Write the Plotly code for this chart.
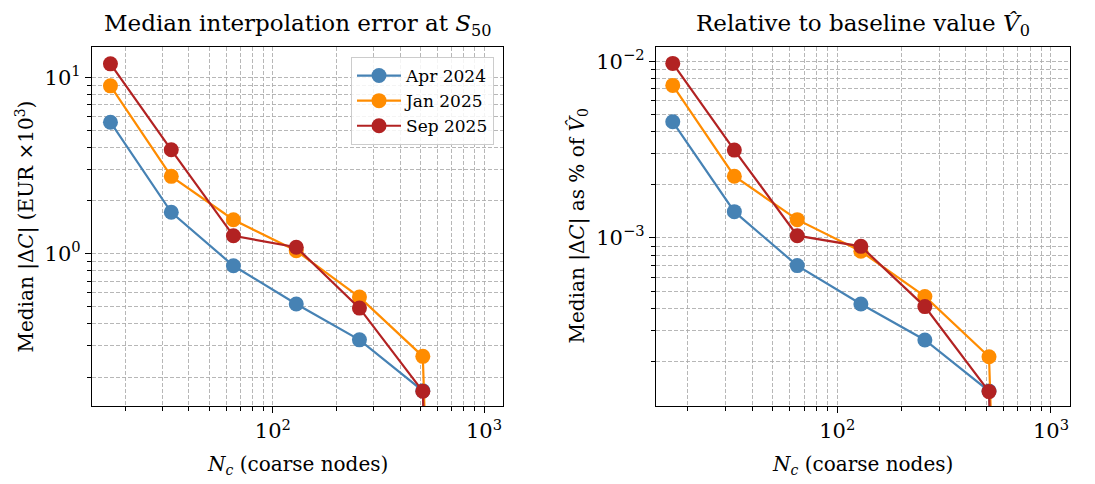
import numpy as np
import plotly.graph_objects as go

# ---- data ----
n_coarse = [17, 33, 65, 129, 257, 513, 1025]
series_names = ["Apr 2024", "Jan 2025", "Sep 2025"]
# last entry (N=1025) is effectively zero error (drawn below the axis floor)
abs_err_apr24 = [5.58, 1.72, 0.855, 0.519, 0.325, 0.167, 1e-12]
abs_err_jan25 = [8.97, 2.75, 1.56, 1.04, 0.568, 0.262, 1e-12]
abs_err_sep25 = [11.96, 3.89, 1.265, 1.09, 0.492, 0.166, 1e-12]
rel_err_apr24 = [4.56e-3, 1.41e-3, 6.97e-4, 4.22e-4, 2.64e-4, 1.355e-4, 1e-15]
rel_err_jan25 = [7.33e-3, 2.24e-3, 1.27e-3, 8.4e-4, 4.66e-4, 2.12e-4, 1e-15]
rel_err_sep25 = [9.77e-3, 3.15e-3, 1.03e-3, 8.96e-4, 4.08e-4, 1.345e-4, 1e-15]
colors = ["#4682B4", "#FF8C00", "#B22222"]

x_major = [100, 1000]
x_major_text = ["10<sup>2</sup>", "10<sup>3</sup>"]
yl_major = [1, 10]
yl_major_text = ["10<sup>0</sup>", "10<sup>1</sup>"]
yr_major = [1e-3, 1e-2]
yr_major_text = ["10<sup>−3</sup>", "10<sup>−2</sup>"]

W, H = 1095, 484
FONT = "DejaVu Serif, Liberation Serif, serif"

def fx(px):
    return px / W

def fy(py):
    return 1 - py / H

fig = go.Figure()

abs_sets = [abs_err_apr24, abs_err_jan25, abs_err_sep25]
rel_sets = [rel_err_apr24, rel_err_jan25, rel_err_sep25]
for i, name in enumerate(series_names):
    fig.add_trace(go.Scatter(
        x=n_coarse, y=abs_sets[i], name=name, mode="lines+markers",
        line=dict(color=colors[i], width=2.2),
        marker=dict(color=colors[i], size=15),
        xaxis="x", yaxis="y", legendgroup=name))
for i, name in enumerate(series_names):
    fig.add_trace(go.Scatter(
        x=n_coarse, y=rel_sets[i], name=name, mode="lines+markers",
        line=dict(color=colors[i], width=2.2),
        marker=dict(color=colors[i], size=15),
        xaxis="x2", yaxis="y2", legendgroup=name, showlegend=False))

def minor_vals(lo_dec, hi_dec):
    v = []
    for d in range(lo_dec, hi_dec + 1):
        for m in range(2, 10):
            v.append(m * 10.0 ** d)
    return v

grid = dict(showgrid=True, gridcolor="rgba(170,170,170,0.85)", griddash="4px,2px", gridwidth=0.8)

def axis_common(domain, rng, tickvals, ticktext, minors, anchor):
    return dict(
        type="log", domain=domain, range=rng, anchor=anchor,
        tickmode="array", tickvals=tickvals, ticktext=ticktext,
        ticks="outside", ticklen=6, tickwidth=1.1, tickcolor="black",
        showline=True, linecolor="black", linewidth=1.3, mirror=True,
        tickfont=dict(family=FONT, size=21, color="black"),
        minor=dict(tickmode="array", tickvals=minors, ticks="outside", ticklen=3.5,
                   tickwidth=0.8, tickcolor="black", **grid),
        zeroline=False, **grid)

xl_dom = [fx(92), fx(503)]
xr_dom = [fx(656), fx(1070)]
y_dom = [fy(406), fy(47)]

fig.update_layout(
    width=W, height=H, autosize=False,
    margin=dict(l=0, r=0, t=0, b=0),
    paper_bgcolor="white", plot_bgcolor="white",
    font=dict(family=FONT, color="black"),
    xaxis=axis_common(xl_dom, [np.log10(13.9), np.log10(1230)], x_major, x_major_text,
                      minor_vals(1, 2), "y"),
    yaxis=axis_common(y_dom, [np.log10(0.137), np.log10(14.9)], yl_major, yl_major_text,
                      minor_vals(-1, 0), "x"),
    xaxis2=axis_common(xr_dom, [1.152, 3.089], x_major, x_major_text,
                       minor_vals(1, 2), "y2"),
    yaxis2=axis_common(y_dom, [-3.953, -1.917], yr_major, yr_major_text,
                       minor_vals(-4, -3), "x2"),
    legend=dict(x=fx(494), y=fy(57), xanchor="right", yanchor="top",
                bgcolor="rgba(255,255,255,0.85)", bordercolor="#cccccc", borderwidth=1,
                font=dict(family=FONT, size=17, color="black"),
                itemwidth=44, tracegroupgap=0),
    showlegend=True,
)

def note(text, x, y, size, angle=0):
    return dict(text=text, x=x, y=y, xref="paper", yref="paper", xanchor="center",
                yanchor="middle", textangle=angle, showarrow=False,
                font=dict(family=FONT, size=size, color="black"))

ann = [
    note("Median interpolation error at <i>S</i><sub>50</sub>",
         (xl_dom[0] + xl_dom[1]) / 2, fy(25), 23),
    note("Relative to baseline value <i>V̂</i><sub>0</sub>",
         (xr_dom[0] + xr_dom[1]) / 2, fy(25), 23),
    note("<i>N</i><sub><i>c</i></sub> (coarse nodes)", (xl_dom[0] + xl_dom[1]) / 2, fy(465), 20),
    note("<i>N</i><sub><i>c</i></sub> (coarse nodes)", (xr_dom[0] + xr_dom[1]) / 2, fy(465), 20),
    note("Median |Δ<i>C</i>| (EUR ×10<sup>3</sup>)", fx(25), (y_dom[0] + y_dom[1]) / 2, 20, -90),
    note("Median |Δ<i>C</i>| as % of <i>V̂</i><sub>0</sub>", fx(578), (y_dom[0] + y_dom[1]) / 2, 20, -90),
]
fig.update_layout(annotations=ann)

fig.write_html("out.html")
